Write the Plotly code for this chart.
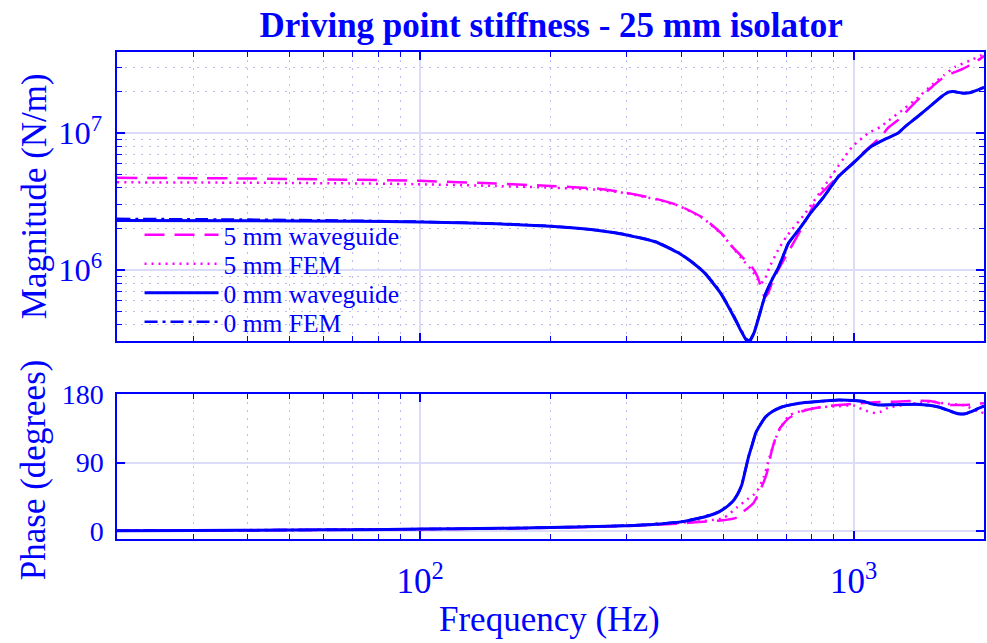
import plotly.graph_objects as go

# ---------------- data ----------------
# Magnitude, 0 mm waveguide
f_mag_0wg = [20, 40, 70, 100, 150, 200, 258, 300, 350, 395, 430, 455, 490, 525, 550, 565, 575,
             590, 610, 627, 650, 672, 708, 747, 800, 850, 923, 1000, 1060, 1100, 1183, 1269,
             1315, 1400, 1515, 1600, 1655, 1700, 1780, 1850, 1930, 2000]
m_mag_0wg = [2.30e6, 2.29e6, 2.27e6, 2.24e6, 2.17e6, 2.08e6, 1.94e6, 1.80e6, 1.60e6, 1.33e6, 1.10e6,
             9.4e5, 7.0e5, 4.8e5, 3.6e5, 3.1e5, 3.0e5, 3.5e5, 5.0e5, 6.7e5, 8.6e5, 1.05e6, 1.57e6,
             1.96e6, 2.65e6, 3.35e6, 4.8e6, 6.05e6, 7.2e6, 7.98e6, 9.0e6, 1.0e7, 1.11e7, 1.3e7,
             1.6e7, 1.85e7, 1.98e7, 2.0e7, 1.95e7, 1.96e7, 2.05e7, 2.15e7]

# Magnitude, 0 mm FEM
f_mag_0fem = [20, 40, 70, 100, 150, 200, 258, 300, 350, 395, 430, 455, 490, 525, 550, 565, 575,
              590, 610, 627, 650, 672, 708, 747, 800, 850, 923, 1000, 1060, 1100, 1183, 1269,
              1315, 1400, 1515, 1600, 1655, 1700, 1780, 1850, 1930, 2000]
m_mag_0fem = [2.36e6, 2.33e6, 2.29e6, 2.25e6, 2.18e6, 2.09e6, 1.95e6, 1.81e6, 1.61e6, 1.34e6, 1.11e6,
              9.5e5, 7.1e5, 4.9e5, 3.65e5, 3.15e5, 3.05e5, 3.5e5, 5.0e5, 6.7e5, 8.6e5, 1.05e6, 1.57e6,
              1.96e6, 2.65e6, 3.35e6, 4.8e6, 6.05e6, 7.2e6, 7.98e6, 9.0e6, 1.0e7, 1.11e7, 1.3e7,
              1.6e7, 1.85e7, 1.98e7, 2.0e7, 1.95e7, 1.96e7, 2.05e7, 2.15e7]

# Magnitude, 5 mm waveguide
f_mag_5wg = [20, 40, 70, 100, 150, 200, 258, 300, 350, 395, 450, 500, 525, 560, 583, 600, 612, 624,
             636, 650, 670, 702, 767, 830, 938, 1000, 1060, 1162, 1198, 1270, 1388, 1500, 1599, 1700,
             1773, 1850, 1930, 2000]
m_mag_5wg = [4.70e6, 4.65e6, 4.55e6, 4.47e6, 4.27e6, 4.10e6, 3.92e6, 3.65e6, 3.30e6, 2.96e6, 2.40e6,
             1.80e6, 1.48e6, 1.20e6, 1.05e6, 9.0e5, 7.5e5, 6.3e5, 6.8e5, 8.2e5, 1.0e6, 1.30e6, 2.13e6,
             3.43e6, 5.06e6, 6.1e6, 7.33e6, 9.5e6, 1.08e7, 1.25e7, 1.67e7, 2.1e7, 2.48e7, 2.75e7,
             2.9e7, 3.1e7, 3.35e7, 3.65e7]

# Magnitude, 5 mm FEM
f_mag_5fem = [20, 40, 70, 100, 150, 200, 258, 300, 350, 395, 450, 500, 525, 560, 585, 600, 612,
              625, 640, 670, 700, 775, 891, 974, 1000, 1083, 1150, 1200, 1305, 1400, 1528, 1620, 1718,
              1850, 1962, 2000]
m_mag_5fem = [4.36e6, 4.33e6, 4.28e6, 4.22e6, 4.10e6, 3.98e6, 3.85e6, 3.62e6, 3.28e6, 2.94e6, 2.38e6,
              1.78e6, 1.47e6, 1.15e6, 9.8e5, 8.6e5, 8.0e5, 8.6e5, 1.05e6, 1.40e6, 1.75e6, 2.61e6, 4.89e6,
              7.33e6, 8.1e6, 1.0e7, 1.1e7, 1.22e7, 1.49e7, 1.78e7, 2.28e7, 2.65e7, 3.04e7, 3.35e7,
              3.66e7, 3.75e7]

# Phase, 0 mm waveguide
f_ph_0wg = [20, 30, 50, 70, 100, 152, 200, 298, 350, 400, 440, 480, 498, 525, 540, 552, 563, 573,
            585, 595, 610, 627, 650, 683, 750, 817, 923, 1000, 1060, 1100, 1142, 1250, 1400, 1570,
            1680, 1745, 1810, 1869, 1940, 2000]
p_ph_0wg = [0.5, 0.8, 1.3, 1.8, 2.5, 3.5, 4.5, 7, 9, 12, 16.7, 23, 27.6, 38, 48, 60, 80, 98,
            115, 129, 140, 150, 157, 163, 168, 170, 172, 171.5, 170, 167, 165.5, 166, 166.5, 163,
            157, 154, 154, 157, 161, 164]

# Phase, 0 mm FEM
f_ph_0fem = [20, 30, 50, 70, 100, 152, 200, 298, 350, 400, 440, 480, 498, 525, 540, 552, 563, 573,
             585, 595, 610, 627, 650, 683, 750, 817, 923, 1000, 1060, 1100, 1142, 1250, 1400, 1570,
             1680, 1745, 1810, 1869, 1940, 2000]
p_ph_0fem = [0.5, 0.8, 1.3, 1.8, 2.5, 3.5, 4.6, 7.1, 9.2, 12.3, 17, 23.5, 28, 38.5, 48.5, 60.5, 80, 98,
             115, 129, 140, 150, 157, 163, 168, 170, 172, 171.5, 170, 167, 165.5, 166, 166.5, 163,
             157, 154, 154, 157, 161, 164]

# Phase, 5 mm waveguide
f_ph_5wg = [20, 50, 100, 152, 200, 298, 400, 440, 500, 540, 552, 570, 588, 600, 614, 631, 648, 672,
            708, 759, 817, 900, 1000, 1100, 1250, 1389, 1512, 1629, 1750, 1850, 2000]
p_ph_5wg = [0.5, 1.2, 2.3, 3.3, 4.2, 6.5, 10, 12, 14, 18, 23.6, 30, 36.8, 46, 58, 76, 106, 132.7,
            148, 157, 161.6, 165, 167, 169, 170, 171, 170.5, 166, 165.5, 166, 168]

# Phase, 5 mm FEM
f_ph_5fem = [20, 50, 100, 200, 298, 400, 500, 540, 570, 595, 620, 640, 665, 680, 712, 760, 820, 923,
             1000, 1027, 1070, 1124, 1160, 1204, 1290, 1400, 1512, 1650, 1800, 1940, 2000]
p_ph_5fem = [0.6, 1.4, 2.6, 4.7, 7.2, 11, 17, 31.5, 42, 50, 70, 97, 125, 136.6, 152, 158, 162, 164,
             165, 162, 158, 155, 157, 162, 165, 168, 170, 167, 165, 157, 155]

series_names = ["5 mm waveguide", "5 mm FEM", "0 mm waveguide", "0 mm FEM"]

x_range_log = [1.301, 3.301]
mag_range_log = [5.482, 7.59]
phase_range = [-10.5, 180]
phase_ticks = [0, 90, 180]

# ---------------- styling ----------------
BLUE = "#0000FF"
MAG = "#FF00FF"
FONT = "Liberation Serif"
MAJ_GRID = "#DCDCF8"
MIN_GRID = "#BDBDF2"
LEGEND_SIZE = 25.5

styles = [
    dict(color=MAG, width=2.5, dash="20px,10px"),
    dict(color=MAG, width=2.5, dash="2px,5px"),
    dict(color=BLUE, width=3, dash="solid"),
    dict(color=BLUE, width=2.5, dash="13px,5px,3px,5px"),
]
legend_ids = ["legend", "legend2", "legend3", "legend4"]
legend_ypos = [0.6241, 0.5645, 0.5050, 0.4454]

mag_data = [(f_mag_5wg, m_mag_5wg), (f_mag_5fem, m_mag_5fem),
            (f_mag_0wg, m_mag_0wg), (f_mag_0fem, m_mag_0fem)]
ph_data = [(f_ph_5wg, p_ph_5wg), (f_ph_5fem, p_ph_5fem),
           (f_ph_0wg, p_ph_0wg), (f_ph_0fem, p_ph_0fem)]

fig = go.Figure()
for name, st, lid, (fx, fy) in zip(series_names, styles, legend_ids, mag_data):
    fig.add_trace(go.Scatter(x=fx, y=fy, mode="lines", name=name,
                             legend=lid,
                             line=dict(**st, shape="spline", smoothing=0.35),
                             xaxis="x", yaxis="y"))
for name, st, (fx, fy) in zip(series_names, styles, ph_data):
    fig.add_trace(go.Scatter(x=fx, y=fy, mode="lines", name=name, showlegend=False,
                             line=dict(**st, shape="spline", smoothing=0.6),
                             xaxis="x2", yaxis="y2"))

common_axis = dict(showline=True, linecolor=BLUE, linewidth=1.5, mirror="ticks",
                   ticks="inside", ticklen=8, tickwidth=1.5, tickcolor=BLUE,
                   gridcolor=MAJ_GRID, gridwidth=1.5, zeroline=False)

tick_font = dict(family=FONT, size=28, color=BLUE)

log_minor = dict(ticks="inside", ticklen=5, tickwidth=1, tickcolor=BLUE, showgrid=True,
                 gridcolor=MIN_GRID, griddash="2px,6px", gridwidth=1, dtick="D1")

layout_legends = {}
for lid, yp in zip(legend_ids, legend_ypos):
    layout_legends[lid] = go.layout.Legend(
        x=0.026, y=yp, xanchor="left", yanchor="middle", bgcolor="rgba(0,0,0,0)",
        font=go.layout.legend.Font(family=FONT, size=LEGEND_SIZE, color=BLUE),
        itemwidth=74, borderwidth=0)

fig.update_layout(
    width=987, height=643,
    margin=dict(l=117, r=1, t=52, b=104),
    paper_bgcolor="white", plot_bgcolor="white",
    showlegend=True,
    title=dict(text="<b>Driving point stiffness - 25 mm isolator</b>", x=0.5583, xref="container",
               xanchor="center", y=0.9611, yanchor="middle",
               font=dict(family=FONT, size=35, color=BLUE)),
    xaxis=dict(type="log", range=x_range_log, domain=[0, 1], anchor="y", dtick=1,
               showticklabels=False, minor=log_minor, tickfont=tick_font, **common_axis),
    yaxis=dict(type="log", range=mag_range_log, domain=[0.4066, 1], anchor="x", dtick=1,
               exponentformat="power", minor=log_minor, ticklabelstandoff=8,
               tickfont=dict(family=FONT, size=26, color=BLUE), **common_axis),
    xaxis2=dict(type="log", range=x_range_log, domain=[0, 1], anchor="y2", dtick=1,
                exponentformat="power", minor=log_minor, ticklabelstandoff=12,
                tickfont=tick_font, **common_axis),
    yaxis2=dict(range=phase_range, domain=[0, 0.2977], anchor="x2", tickvals=phase_ticks,
                ticklabelstandoff=6, tickfont=tick_font, **common_axis),
    annotations=[
        dict(text="Magnitude (N/m)", xref="paper", yref="paper", x=-0.0955, y=0.7043,
             xanchor="center", yanchor="middle", textangle=-90, showarrow=False,
             font=dict(family=FONT, size=35, color=BLUE)),
        dict(text="Phase (degrees)", xref="paper", yref="paper", x=-0.0955, y=0.1417,
             xanchor="center", yanchor="middle", textangle=-90, showarrow=False,
             font=dict(family=FONT, size=35, color=BLUE)),
        dict(text="Frequency (Hz)", xref="paper", yref="paper", x=0.4994, y=-0.1663,
             xanchor="center", yanchor="middle", showarrow=False,
             font=dict(family=FONT, size=35, color=BLUE)),
    ],
    **layout_legends,
)

fig.write_html("out.html")
